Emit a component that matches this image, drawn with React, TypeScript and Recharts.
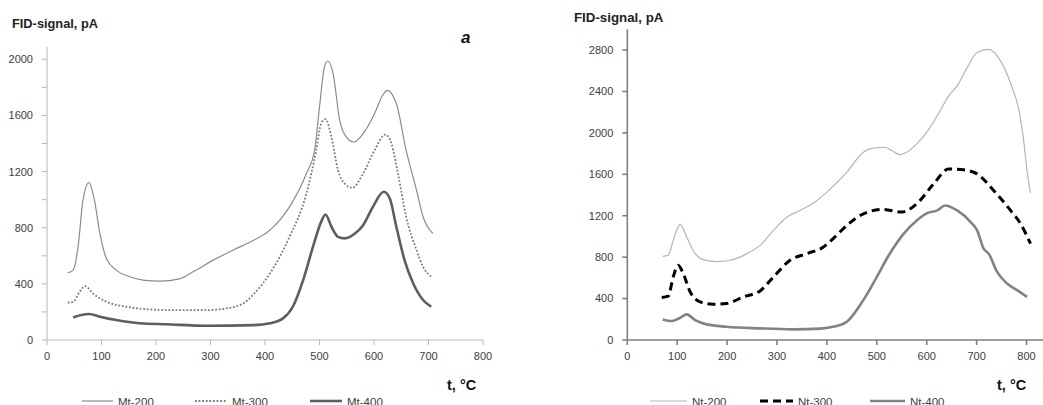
import React from "react";
import { LineChart, Line, XAxis, YAxis } from "recharts";

// ---- Data: [temperature °C, FID signal pA] ----
const mt200: [number, number][] = [
  [38, 479], [48, 498], [57, 664], [66, 996], [77, 1122], [87, 996], [97, 759], [109, 581],
  [127, 498], [152, 451], [176, 427], [207, 420], [243, 436], [268, 486], [305, 569],
  [341, 640], [380, 712], [409, 783], [445, 949], [476, 1186], [491, 1352], [500, 1660],
  [509, 1945], [515, 1988], [525, 1898], [537, 1566], [549, 1447], [563, 1411], [580, 1471],
  [601, 1613], [616, 1744], [624, 1779], [641, 1685], [659, 1352], [678, 1068], [690, 878],
  [708, 759],
];
const mt300: [number, number][] = [
  [38, 266], [48, 272], [60, 344], [70, 384], [84, 332], [109, 273], [146, 237], [188, 218],
  [231, 213], [292, 213], [329, 225], [360, 261], [380, 330], [409, 474], [445, 735],
  [476, 1044], [494, 1352], [503, 1542], [511, 1573], [522, 1447], [534, 1210], [546, 1115],
  [560, 1084], [580, 1186], [601, 1352], [621, 1464], [632, 1400], [644, 1186], [659, 878],
  [678, 641], [690, 522], [705, 451],
];
const mt400: [number, number][] = [
  [48, 161], [63, 178], [77, 185], [97, 166], [127, 142], [170, 119], [219, 112], [292, 102],
  [380, 106], [409, 119], [433, 154], [451, 237], [470, 427], [488, 664], [503, 842],
  [511, 894], [522, 807], [534, 735], [546, 724], [565, 759], [580, 818], [598, 949],
  [618, 1056], [629, 1008], [641, 807], [656, 569], [672, 403], [690, 285], [705, 237],
];
const nt200: [number, number][] = [
  [71, 808], [82, 818], [92, 962], [106, 1116], [119, 994], [136, 834], [152, 776],
  [179, 757], [206, 770], [240, 834], [266, 914], [293, 1059], [320, 1187], [346, 1251],
  [373, 1322], [400, 1428], [440, 1620], [473, 1813], [490, 1851], [517, 1861], [530, 1829],
  [547, 1790], [560, 1813], [580, 1893], [607, 2053], [627, 2214], [644, 2358], [661, 2454],
  [681, 2630], [701, 2775], [724, 2807], [748, 2695], [771, 2438], [785, 2214], [795, 1893],
  [801, 1636], [808, 1418],
];
const nt300: [number, number][] = [
  [69, 411], [82, 423], [92, 609], [102, 722], [112, 642], [126, 465], [146, 369],
  [172, 346], [199, 353], [233, 417], [266, 474], [293, 609], [326, 770], [360, 834],
  [393, 898], [415, 990], [440, 1107], [473, 1219], [513, 1261], [550, 1235], [580, 1316],
  [614, 1508], [644, 1652], [674, 1643], [701, 1604], [734, 1444], [768, 1251], [788, 1123],
  [808, 930],
];
const nt400: [number, number][] = [
  [71, 199], [89, 183], [106, 215], [119, 247], [136, 192], [159, 151], [199, 128],
  [266, 112], [333, 103], [387, 110], [415, 130], [440, 176], [473, 385], [500, 609],
  [524, 818], [554, 1027], [580, 1155], [601, 1225], [621, 1251], [637, 1299], [661, 1251],
  [688, 1139], [701, 1059], [714, 882], [724, 834], [741, 657], [761, 545], [781, 481],
  [801, 417],
];

const xTicks = [0, 100, 200, 300, 400, 500, 600, 700, 800];
const leftYTicks = [0, 200, 400, 600, 800, 1000, 1200, 1400, 1600, 1800, 2000];
const rightYTicks = [0, 400, 800, 1200, 1600, 2000, 2400, 2800];

const toRows = (a: [number, number][]) => a.map(([t, v]) => ({ t, v }));

const FONT = "'Liberation Sans', Arial, sans-serif";
const tickStyle = { fontSize: 11, fill: "#404040", fontFamily: FONT };

const LegendItem = ({ x, label, stroke, width, dash, lineW }: any) => (
  <g>
    <line x1={x} x2={x + lineW} y1={401} y2={401} stroke={stroke} strokeWidth={width} strokeDasharray={dash} />
    <text x={x + lineW + 5} y={406} fontSize={11.5} fill="#404040" fontFamily={FONT}>{label}</text>
  </g>
);

export default function App() {
  return (
    <div style={{ position: "fixed", left: 0, top: 0, width: 1043, height: 405, background: "#fff", overflow: "hidden" }}>
      {/* Left chart */}
      <div style={{ position: "absolute", left: 0, top: 0 }}>
        <LineChart width={520} height={405} margin={{ top: 46.7, right: 37, bottom: 35, left: 7 }}>
          <XAxis type="number" dataKey="t" domain={[0, 800]} ticks={xTicks} allowDataOverflow
            height={30} tickSize={5} tickMargin={7} stroke="#b8b8b8" tick={tickStyle} />
          <YAxis type="number" domain={[0, 2090]} ticks={leftYTicks} allowDataOverflow width={40}
            tickSize={5} tickMargin={9} stroke="#b8b8b8" tick={tickStyle}
            tickFormatter={(v: number) => (v % 400 === 0 ? String(v) : "")} />
          <Line data={toRows(mt200)} dataKey="v" type="monotone" stroke="#8c8c8c" strokeWidth={1.2} dot={false} isAnimationActive={false} />
          <Line data={toRows(mt300)} dataKey="v" type="monotone" stroke="#7a7a7a" strokeWidth={1.8} strokeDasharray="1.8 1.8" dot={false} isAnimationActive={false} />
          <Line data={toRows(mt400)} dataKey="v" type="monotone" stroke="#5e5e5e" strokeWidth={2.6} dot={false} isAnimationActive={false} />
        </LineChart>
      </div>
      {/* Right chart */}
      <div style={{ position: "absolute", left: 520, top: 0 }}>
        <LineChart width={523} height={405} margin={{ top: 29.3, right: 0, bottom: 35, left: 67.3 }}>
          <XAxis type="number" dataKey="t" domain={[0, 833]} ticks={xTicks} allowDataOverflow
            height={30} tickSize={5} tickMargin={7} stroke="#808080" strokeWidth={1.6} tick={tickStyle} />
          <YAxis type="number" domain={[0, 3000]} ticks={rightYTicks} allowDataOverflow width={40}
            tickSize={5} tickMargin={9} stroke="#808080" strokeWidth={1.6} tick={tickStyle} />
          <Line data={toRows(nt200)} dataKey="v" type="monotone" stroke="#b4b4b4" strokeWidth={1.2} dot={false} isAnimationActive={false} />
          <Line data={toRows(nt300)} dataKey="v" type="monotone" stroke="#000000" strokeWidth={3} strokeDasharray="8 5" dot={false} isAnimationActive={false} />
          <Line data={toRows(nt400)} dataKey="v" type="monotone" stroke="#828282" strokeWidth={2.6} dot={false} isAnimationActive={false} />
        </LineChart>
      </div>
      {/* Texts and legends */}
      <svg width={1043} height={405} style={{ position: "absolute", left: 0, top: 0, pointerEvents: "none" }}>
        <text x={12} y={28} fontSize={12.8} fontWeight="bold" fill="#222" fontFamily={FONT}>FID-signal, pA</text>
        <text x={574} y={22} fontSize={13.3} fontWeight="bold" fill="#222" fontFamily={FONT}>FID-signal, pA</text>
        <text x={461} y={43} fontSize={17} fontWeight="bold" fontStyle="italic" fill="#111" fontFamily={FONT}>a</text>
        <text x={447} y={390} fontSize={14.5} fontWeight="bold" fill="#111" fontFamily={FONT}>t, °C</text>
        <text x={997} y={390} fontSize={14.5} fontWeight="bold" fill="#111" fontFamily={FONT}>t, °C</text>
        <LegendItem x={82} lineW={31} label="Mt-200" stroke="#8c8c8c" width={1.2} />
        <LegendItem x={195} lineW={32} label="Mt-300" stroke="#7a7a7a" width={1.8} dash="1.8 1.8" />
        <LegendItem x={310} lineW={32} label="Mt-400" stroke="#5e5e5e" width={2.6} />
        <LegendItem x={650} lineW={37} label="Nt-200" stroke="#b4b4b4" width={1.2} />
        <LegendItem x={760} lineW={33} label="Nt-300" stroke="#000" width={3} dash="8 5" />
        <LegendItem x={870} lineW={35} label="Nt-400" stroke="#828282" width={2.6} />
      </svg>
    </div>
  );
}
